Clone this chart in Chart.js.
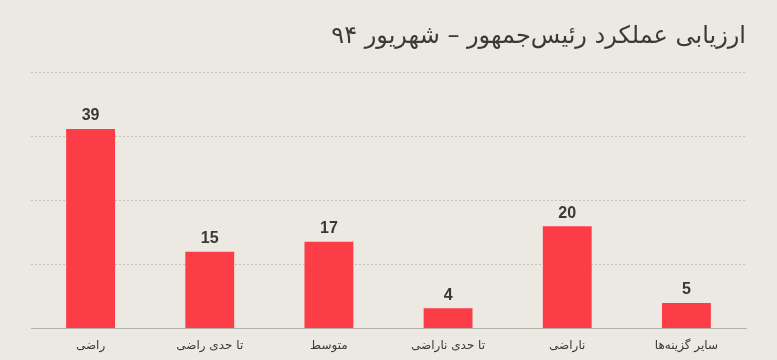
<!DOCTYPE html>
<html>
<head>
<meta charset="utf-8">
<script src="https://cdn.jsdelivr.net/npm/chart.js@4"></script>
<style>
  html, body { margin: 0; padding: 0; background: #ece9e2; }
  #wrap { width: 777px; height: 360px; position: relative; }
</style>
</head>
<body>
<div id="wrap"><canvas id="chart"></canvas></div>
<script>
var titleText = 'ارزیابی عملکرد رئیس‌جمهور – شهریور ۹۴';
var categories = ['راضی', 'تا حدی راضی', 'متوسط', 'تا حدی ناراضی', 'ناراضی', 'سایر گزینه‌ها'];
var values = [39, 15, 17, 4, 20, 5];

// draws the number above each bar
var valueLabels = {
    id: 'valueLabels',
    afterDatasetsDraw: function(chart) {
        var ctx = chart.ctx;
        var meta = chart.getDatasetMeta(0);
        ctx.save();
        ctx.font = 'bold 16px "Liberation Sans", Arial, sans-serif';
        ctx.fillStyle = '#383838';
        ctx.textAlign = 'center';
        ctx.textBaseline = 'bottom';
        meta.data.forEach(function(bar, i) {
            ctx.fillText(values[i], bar.x, bar.y - 5);
        });
        ctx.restore();
    }
};

var ctx = document.getElementById('chart').getContext('2d');
var chart = new Chart(ctx, {
    type: 'bar',
    data: {
        labels: categories,
        datasets: [{
            data: values,
            backgroundColor: '#fc3c47',
            borderWidth: 0,
            barPercentage: 0.41,
            categoryPercentage: 1
        }]
    },
    options: {
        responsive: true,
        maintainAspectRatio: false,
        animation: false,
        layout: { padding: { left: 31, right: 31, top: 0, bottom: 5 } },
        plugins: {
            legend: { display: false },
            tooltip: { enabled: false },
            title: {
                display: true,
                text: titleText,
                align: 'end',
                color: '#3a3a3a',
                font: { family: '"DejaVu Sans", sans-serif', size: 24, weight: 'normal' },
                padding: { top: 22, bottom: 22 }
            }
        },
        scales: {
            x: {
                grid: { display: false },
                border: { display: true, color: '#b5b2ad', width: 1 },
                ticks: {
                    color: '#3a3a3a',
                    font: { family: '"DejaVu Sans", sans-serif', size: 12 },
                    padding: 2
                }
            },
            y: {
                min: 0,
                max: 50,
                ticks: { display: false, stepSize: 12.5 },
                border: { display: false, dash: [2, 2] },
                grid: {
                    drawTicks: false,
                    color: function(c) { return c.tick.value === 0 ? 'rgba(0,0,0,0)' : '#c4c1bb'; }
                }
            }
        }
    },
    plugins: [valueLabels]
});
</script>
</body>
</html>
